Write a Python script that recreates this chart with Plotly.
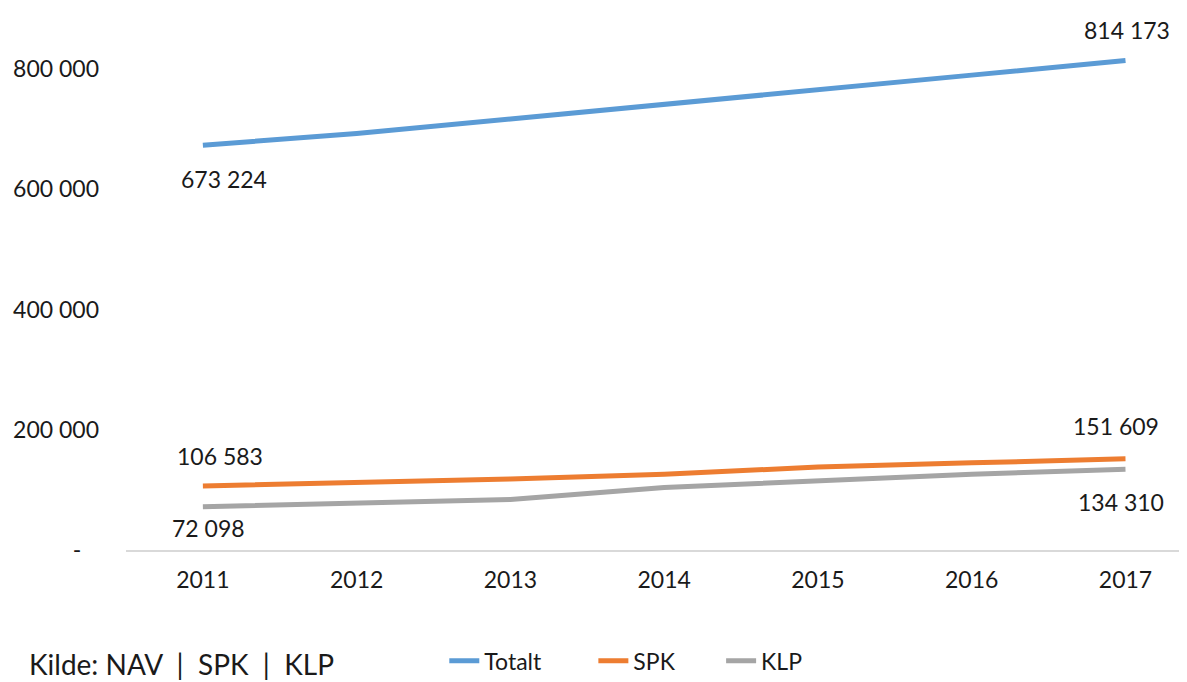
import plotly.graph_objects as go

years = ["2011", "2012", "2013", "2014", "2015", "2016", "2017"]
totalt = [673224, 693000, 717000, 742000, 767000, 790000, 814173]
spk = [106583, 112000, 118000, 126000, 138000, 145000, 151609]
klp = [72098, 77000, 84000, 104000, 116000, 126000, 134310]

y_tickvals = [0, 200000, 400000, 600000, 800000]
y_ticktext = ["-\u00a0\u00a0\u00a0", "200 000", "400 000", "600 000", "800 000"]

FONT = "Lato, 'Open Sans', sans-serif"
NB = "\u00a0"

def fmt(v):
    return f"{v:,}".replace(",", " ")

fig = go.Figure()
series = [("Totalt" + NB * 8, totalt, "#5B9BD5"), ("SPK" + NB * 7, spk, "#ED7D31"), ("KLP", klp, "#A5A5A5")]
for name, vals, col in series:
    fig.add_trace(go.Scatter(x=years, y=vals, mode="lines", name=name,
                             line=dict(color=col, width=5)))

# data labels: (series values, index, xshift, yshift)
label_specs = [
    (totalt, 0, 21, -34), (totalt, 6, 2, 31),
    (spk, 0, 17, 30), (spk, 6, -9, 33),
    (klp, 0, 6, -21), (klp, 6, -4, -33),
]
for vals, i, xs, ys in label_specs:
    fig.add_annotation(x=i, y=vals[i], xref="x", yref="y", text=fmt(vals[i]), showarrow=False,
                       xshift=xs, yshift=ys, font=dict(size=23, color="#1a1a1a", family=FONT))

fig.add_annotation(xref="paper", yref="paper", x=-0.093, y=-0.211, xanchor="left", yanchor="middle",
                   text="Kilde: NAV  |  SPK  |  KLP", showarrow=False,
                   font=dict(size=28, color="#1a1a1a", family=FONT))

fig.update_layout(
    width=1179, height=674,
    margin=dict(l=118, r=0, t=1, b=132, autoexpand=False),
    paper_bgcolor="white", plot_bgcolor="white",
    font=dict(family=FONT, size=23, color="#1a1a1a"),
    showlegend=True,
    legend=dict(orientation="h", x=0.3, y=-0.205, xanchor="left", yanchor="middle",
                font=dict(size=23, color="#1a1a1a", family=FONT), itemwidth=30,
                bgcolor="rgba(0,0,0,0)", traceorder="normal"),
    xaxis=dict(type="category", range=[-0.5, 6.4], showgrid=False, zeroline=False,
               showline=True, linecolor="#D9D9D9", linewidth=2,
               ticks="", ticklabelstandoff=8, tickfont=dict(size=23)),
    yaxis=dict(range=[0, 900000], tickvals=y_tickvals, ticktext=y_ticktext,
               showgrid=False, zeroline=False, showline=False, ticks="",
               ticklabelstandoff=26, tickfont=dict(size=23)),
)

fig.write_html("out.html")
